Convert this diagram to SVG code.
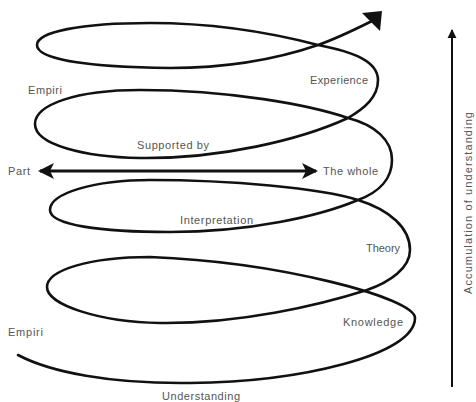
<svg xmlns="http://www.w3.org/2000/svg" width="476" height="402" viewBox="0 0 476 402">
  <defs>
    <style>
      .spiral { fill: none; stroke: #111; stroke-width: 2.6; stroke-linecap: round; stroke-linejoin: round; }
      .axis { fill: none; stroke: #111; stroke-width: 2; }
      .dbl { fill: none; stroke: #111; stroke-width: 3; }
      .lbl { font-family: "Liberation Sans", Arial, sans-serif; font-size: 11px; fill: #555; }
      .head { fill: #111; }
    </style>
    <marker id="barb" viewBox="0 0 16 16" refX="14" refY="8" markerWidth="16" markerHeight="16" markerUnits="userSpaceOnUse" orient="auto-start-reverse">
      <path d="M0,0 L16,8 L0,16 L4,8 Z" class="head"/>
    </marker>
    <marker id="tri" viewBox="0 0 10 10" refX="9" refY="5" markerWidth="9" markerHeight="10" markerUnits="userSpaceOnUse" orient="auto">
      <path d="M0,0 L10,5 L0,10 Z" class="head"/>
    </marker>
  </defs>
  <rect width="476" height="402" fill="#fff"/>

  <g id="connectors">
    <path id="spiral" class="spiral" d="M18,355
      C50,372 110,384 190,383
      C300,382 415,355 415,318
      C415,298 280,262 150,257
      C90,257 47,270 47,287
      C47,305 100,322 160,323
      C240,324 320,305 367,290
      C390,282 410,268 410,250
      C410,228 390,210 358,200
      C320,188 230,180 150,180
      C95,180 50,193 50,210
      C50,225 100,232 170,232
      C250,232 320,216 358,200
      C380,192 392,178 392,160
      C392,140 375,125 348,118
      C310,105 230,90 140,90
      C75,90 35,105 35,124
      C35,145 85,157 140,158
      C220,159 300,140 348,118
      C365,108 378,97 378,80
      C378,62 355,52 318,45
      C280,35 220,23 150,23
      C80,23 37,32 37,45
      C37,60 90,67 170,68
      C230,68 280,58 318,45
      C338,38 356,29 372,21"/>
    <polygon id="spiral-head" class="head" points="362,13 382,11 380,31"/>
    <path id="part-whole" class="dbl" d="M40,171 L316,171" marker-start="url(#barb)" marker-end="url(#barb)"/>
    <path id="accumulation" class="axis" d="M452,387 L452,30" marker-end="url(#tri)"/>
  </g>

  <g id="n-empiri-top"><text class="lbl" x="28" y="94" textLength="34">Empiri</text></g>
  <g id="n-experience"><text class="lbl" x="310" y="84" textLength="58">Experience</text></g>
  <g id="n-supported"><text class="lbl" x="137" y="149" textLength="72">Supported by</text></g>
  <g id="n-part"><text class="lbl" x="8" y="175" textLength="22">Part</text></g>
  <g id="n-whole"><text class="lbl" x="323" y="175" textLength="55">The whole</text></g>
  <g id="n-interpretation"><text class="lbl" x="180" y="224" textLength="73">Interpretation</text></g>
  <g id="n-theory"><text class="lbl" x="366" y="252" textLength="34">Theory</text></g>
  <g id="n-knowledge"><text class="lbl" x="343" y="326" textLength="60">Knowledge</text></g>
  <g id="n-empiri-bottom"><text class="lbl" x="8" y="336" textLength="35">Empiri</text></g>
  <g id="n-understanding"><text class="lbl" x="162" y="400" textLength="78">Understanding</text></g>
  <g id="n-accumulation"><text class="lbl" transform="translate(472,203) rotate(-90)" text-anchor="middle" textLength="182">Accumulation of understanding</text></g>
</svg>
